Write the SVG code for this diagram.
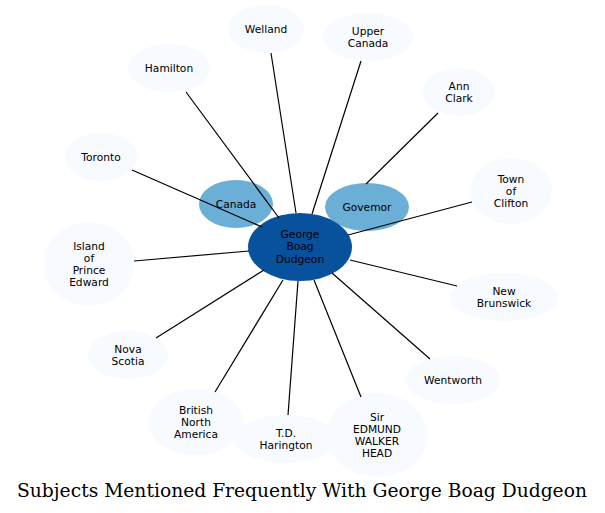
<svg xmlns="http://www.w3.org/2000/svg" width="605" height="513" viewBox="0 0 605 513">
<style>
.lt{fill:#f7fbff}
.md{fill:#6baed6}
.dk{fill:#08519c}
text{font-family:"DejaVu Sans","Liberation Sans",sans-serif;font-size:10.67px;fill:#000;text-anchor:middle}
.title{font-family:"DejaVu Serif","Liberation Serif",serif;font-size:18.7px}
#edges line{stroke:#000;stroke-width:1.2}
</style>
<rect width="605" height="513" fill="#fff"/>
<g id="n-welland"><ellipse class="lt" cx="266" cy="29" rx="38" ry="24"/><text x="266" y="32.7">Welland</text></g>
<g id="n-uppercanada"><ellipse class="lt" cx="368" cy="37" rx="45" ry="24"/><text x="368" y="34.5">Upper</text><text x="368" y="46.5">Canada</text></g>
<g id="n-hamilton"><ellipse class="lt" cx="169" cy="68" rx="41" ry="24"/><text x="169" y="71.7">Hamilton</text></g>
<g id="n-annclark"><ellipse class="lt" cx="459" cy="92" rx="36" ry="24"/><text x="459" y="89.5">Ann</text><text x="459" y="101.5">Clark</text></g>
<g id="n-toronto"><ellipse class="lt" cx="101" cy="157" rx="36" ry="24"/><text x="101" y="160.7">Toronto</text></g>
<g id="n-clifton"><ellipse class="lt" cx="511" cy="191" rx="41" ry="33"/><text x="511" y="182.7">Town</text><text x="511" y="194.7">of</text><text x="511" y="206.7">Clifton</text></g>
<g id="n-island"><ellipse class="lt" cx="89" cy="264" rx="45" ry="42"/><text x="89" y="249.7">Island</text><text x="89" y="261.7">of</text><text x="89" y="273.7">Prince</text><text x="89" y="285.7">Edward</text></g>
<g id="n-newbrunswick"><ellipse class="lt" cx="504" cy="297" rx="54" ry="24"/><text x="504" y="294.5">New</text><text x="504" y="306.5">Brunswick</text></g>
<g id="n-novascotia"><ellipse class="lt" cx="128" cy="355" rx="40" ry="24"/><text x="128" y="352.5">Nova</text><text x="128" y="364.5">Scotia</text></g>
<g id="n-wentworth"><ellipse class="lt" cx="453" cy="380" rx="47" ry="24"/><text x="453" y="383.7">Wentworth</text></g>
<g id="n-bna"><ellipse class="lt" cx="196" cy="422" rx="47" ry="33"/><text x="196" y="413.7">British</text><text x="196" y="425.7">North</text><text x="196" y="437.7">America</text></g>
<g id="n-harington"><ellipse class="lt" cx="286" cy="439" rx="52" ry="24"/><text x="286" y="436.5">T.D.</text><text x="286" y="448.5">Harington</text></g>
<g id="n-head"><ellipse class="lt" cx="377" cy="435" rx="50" ry="42"/><text x="377" y="420.7">Sir</text><text x="377" y="432.7">EDMUND</text><text x="377" y="444.7">WALKER</text><text x="377" y="456.7">HEAD</text></g>
<g id="n-canada"><ellipse class="md" cx="236" cy="204" rx="37" ry="24"/><text x="236" y="207.7">Canada</text></g>
<g id="n-governor"><ellipse class="md" cx="367" cy="207" rx="42" ry="24"/><text x="367" y="210.7">Govemor</text></g>
<g id="n-center"><ellipse class="dk" cx="300" cy="247" rx="52" ry="34"/><text x="300" y="238">George</text><text x="300" y="250.3">Boag</text><text x="300" y="262.6">Dudgeon</text></g>
<g id="edges">
<line x1="271" y1="53" x2="296" y2="213"/>
<line x1="361" y1="61" x2="312" y2="214"/>
<line x1="186" y1="92" x2="279" y2="218"/>
<line x1="132" y1="170" x2="262" y2="227"/>
<line x1="438" y1="113" x2="366" y2="184"/>
<line x1="472" y1="202" x2="348" y2="235"/>
<line x1="134" y1="261" x2="249" y2="251"/>
<line x1="457" y1="286" x2="350" y2="260"/>
<line x1="156" y1="338" x2="264" y2="270"/>
<line x1="430" y1="359" x2="332" y2="273"/>
<line x1="215" y1="392" x2="283" y2="280"/>
<line x1="288" y1="415" x2="298" y2="281"/>
<line x1="361" y1="397" x2="314" y2="280"/>
</g>
<text class="title" x="302" y="497">Subjects Mentioned Frequently With George Boag Dudgeon</text>
</svg>
